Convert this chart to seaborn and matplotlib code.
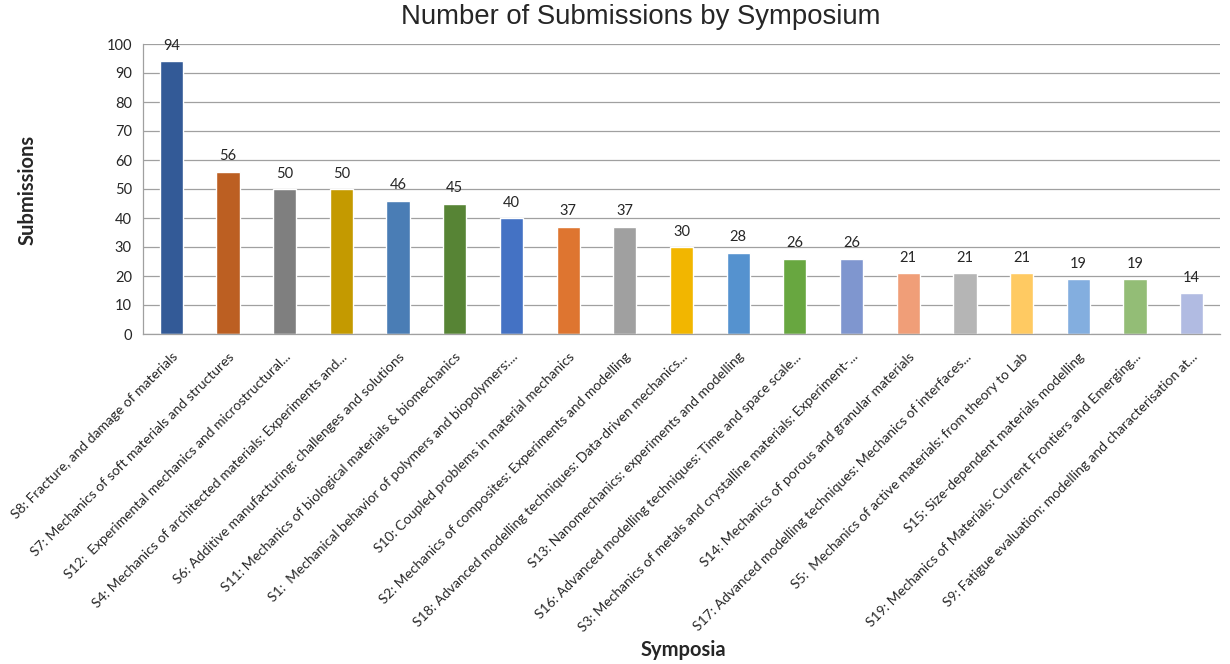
import matplotlib
matplotlib.use('agg')
import matplotlib.pyplot as plt
import matplotlib.ticker as mticker
import seaborn as sns
import pandas as pd

symposia = [
    "S8: Fracture, and damage of materials",
    "S7: Mechanics of soft materials and structures",
    "S12:  Experimental mechanics and microstructural...",
    "S4: Mechanics of architected materials: Experiments and...",
    "S6: Additive manufacturing: challenges and solutions",
    "S11: Mechanics of biological materials & biomechanics",
    "S1:  Mechanical behavior of polymers and biopolymers:...",
    "S10: Coupled problems in material mechanics",
    "S2: Mechanics of composites: Experiments and modelling",
    "S18: Advanced modelling techniques: Data-driven mechanics...",
    "S13: Nanomechanics: experiments and modelling",
    "S16: Advanced modelling techniques: Time and space scale...",
    "S3: Mechanics of metals and crystalline materials: Experiment-...",
    "S14: Mechanics of porous and granular materials",
    "S17: Advanced modelling techniques: Mechanics of interfaces...",
    "S5:  Mechanics of active materials: from theory to Lab",
    "S15: Size-dependent materials modelling",
    "S19: Mechanics of Materials: Current Frontiers and Emerging...",
    "S9: Fatigue evaluation: modelling and characterisation at...",
]
submissions = [94, 56, 50, 50, 46, 45, 40, 37, 37, 30, 28, 26, 26, 21, 21, 21, 19, 19, 14]
colors = [
    "#335A97", "#BC5F22", "#7F7F7F", "#C49A00", "#4A7DB5", "#578435",
    "#4472C4", "#DE7530", "#A0A0A0", "#F2B600", "#5592CF", "#68A740",
    "#7F96CF", "#F09E78", "#B5B5B5", "#FFCA62", "#83AEDF", "#93BD76",
    "#B1BBE2",
]

df = pd.DataFrame({"symposium": symposia, "submissions": submissions})

sns.set_style("white")
plt.rcParams['font.family'] = ['Lato', 'DejaVu Sans']

fig = plt.figure(figsize=(12.3, 6.64), dpi=100)
ax = fig.add_axes([143 / 1230, 1 - 334 / 664, (1220 - 143) / 1230, (334 - 44) / 664])

sns.barplot(data=df, x="symposium", y="submissions", hue="symposium",
            palette=colors, legend=False, width=0.41, saturation=1, ax=ax)

ax.set_xlim(-0.5, len(symposia) - 0.5)
ax.set_ylim(0, 100)
ax.yaxis.set_major_locator(mticker.MultipleLocator(10))
ax.yaxis.set_minor_locator(mticker.MultipleLocator(1))
ax.grid(axis='y', color='#A0A0A0', linewidth=0.9)
ax.set_axisbelow(True)

for s in ['top', 'right']:
    ax.spines[s].set_visible(False)
for s in ['left', 'bottom']:
    ax.spines[s].set_color('#A0A0A0')
    ax.spines[s].set_linewidth(0.9)

ax.tick_params(axis='y', which='major', direction='inout', length=8, color='#A0A0A0',
               labelsize=10.5, pad=4)
ax.tick_params(axis='y', which='minor', direction='inout', length=5, color='#A0A0A0')
ax.set_xticks(range(len(symposia)))
ax.set_xticklabels(symposia, rotation=45, ha='right', rotation_mode='anchor', fontsize=10)
ax.xaxis.set_minor_locator(mticker.FixedLocator([i - 0.5 for i in range(len(symposia) + 1)]))
ax.tick_params(axis='x', which='major', length=0, pad=12)
ax.tick_params(axis='x', which='minor', direction='out', length=5, color='#A0A0A0')

for i, v in enumerate(submissions):
    ax.annotate(str(v), (i, v), xytext=(0, 6), textcoords='offset points',
                ha='center', va='bottom', fontsize=10.5)

ax.set_xlabel("")
ax.set_ylabel("")
fig.text(641 / 1230, 1 - 17 / 664, "Number of Submissions by Symposium",
         ha='center', va='center', fontsize=19.8, family='Liberation Sans')
fig.text(28 / 1230, 1 - 190 / 664, "Submissions", rotation=90,
         ha='center', va='center', fontsize=14.5, fontweight='bold')
fig.text(683 / 1230, 1 - 650 / 664, "Symposia",
         ha='center', va='center', fontsize=14.5, fontweight='bold')

fig.savefig('out.png', dpi=100)
